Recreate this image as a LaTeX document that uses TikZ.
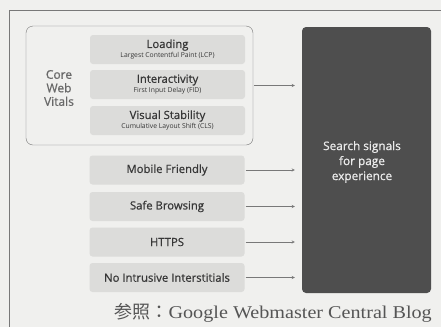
\documentclass[tikz,border=0pt]{standalone}
\usepackage{fontspec}
\setmainfont{Liberation Serif}
\newfontfamily\gsans[FakeBold=0.7]{Open Sans}
\newfontfamily\gsanslight{Open Sans}
\newfontfamily\cjk{Noto Sans CJK JP}
\newcommand\subtxt[1]{{\gsanslight\fontsize{6.8}{7}\selectfont #1}}
\definecolor{bgG}{RGB}{240,240,238}
\definecolor{boxG}{RGB}{220,220,218}
\definecolor{txtG}{RGB}{55,55,55}
\definecolor{darkG}{RGB}{78,78,78}
\definecolor{lineG}{RGB}{120,120,120}
\tikzset{
  metric/.style={fill=boxG,rounded corners=3pt,minimum width=155pt,minimum height=29pt,
    align=center,text=txtG,font=\gsans\fontsize{11.3}{11}\selectfont,inner sep=0pt},
  feed/.style={lineG,thin,-stealth,shorten >=7pt,shorten <=1pt}
}
\begin{document}
\begin{tikzpicture}[x=1pt,y=-1pt]
\useasboundingbox (0,0) rectangle (441,327);
\fill[bgG] (0,0) rectangle (441,327);
% frame
\draw[lineG,thin] (441,10) -- (9,10) -- (9,327);
% core web vitals group
\node[draw=lineG,rounded corners=7pt,minimum width=227pt,minimum height=119pt,inner sep=0pt] (core) at (139.5,85.5) {};
\node[text=txtG!75,font=\gsans\fontsize{12}{13.5}\selectfont,align=center] (cwv) at (59,88) {Core\\Web\\Vitals};
\node[metric] (lcp) at (167.5,49.5) {Loading\\[-1pt]\subtxt{Largest Contentful Paint (LCP)}};
\node[metric] (fid) at (167.5,84.5) {Interactivity\\[-1pt]\subtxt{First Input Delay (FID)}};
\node[metric] (cls) at (167.5,120.5) {Visual Stability\\[-1pt]\subtxt{Cumulative Layout Shift (CLS)}};
% other signals
\node[metric] (mob) at (167,170) {Mobile Friendly};
\node[metric] (safe) at (167,206.5) {Safe Browsing};
\node[metric] (https) at (167,242) {HTTPS};
\node[metric] (intr) at (167,277.5) {No Intrusive Interstitials};
% target
\node[fill=darkG,rounded corners=4pt,minimum width=129pt,minimum height=266pt,inner sep=0pt] (sig) at (366.5,160) {};
\node[text=white!92!black,font=\gsans\fontsize{11.8}{15}\selectfont,align=center] (sigtxt) at (362,162) {Search signals\\for page\\experience};
% arrows
\draw[feed] (core.east) -- (core.east -| sig.west);
\foreach \n in {mob,safe,https,intr}
  \draw[feed] (\n.east) -- (\n.east -| sig.west);
% source
\node[anchor=base east,text=txtG!85,font=\addfontfeature{FakeStretch=1.12}\fontsize{18}{20}\selectfont,inner sep=0pt] (src) at (432,318) {{\cjk 参照：}Google Webmaster Central Blog};
\end{tikzpicture}
\end{document}
